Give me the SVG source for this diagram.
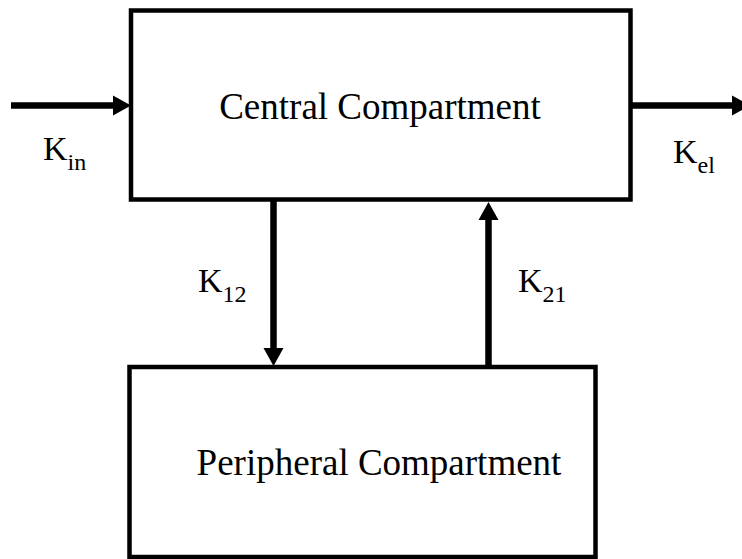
<svg xmlns="http://www.w3.org/2000/svg" width="742" height="559" viewBox="0 0 742 559">
<style>
.box{fill:#fff;stroke:#000;stroke-width:4.5}
.lbl{font-family:"Liberation Serif","Times New Roman",serif;fill:#000}
.big{font-size:37px}
.k{font-size:34px}
.sub{font-size:24px}
.con{stroke:#000;stroke-width:6.5;fill:none;marker-end:url(#ah)}
</style>
<defs>
<marker id="ah" markerUnits="userSpaceOnUse" markerWidth="20" markerHeight="22" refX="0" refY="10" orient="auto" overflow="visible">
<path d="M0,0 L18,10 L0,20 Z" fill="#000"/>
</marker>
</defs>
<rect width="742" height="559" fill="#fff"/>
<g id="central">
<rect class="box" x="131" y="10.5" width="499.5" height="189"/>
<text class="lbl big" x="380" y="119" text-anchor="middle">Central Compartment</text>
</g>
<g id="peripheral">
<rect class="box" x="129.5" y="367" width="466" height="190"/>
<text class="lbl big" x="379" y="475" text-anchor="middle">Peripheral Compartment</text>
</g>
<g id="connectors">
<line class="con" x1="11" y1="105.5" x2="113" y2="105.5"/>
<line class="con" x1="631" y1="105.5" x2="732" y2="105.5"/>
<line class="con" x1="273.5" y1="201" x2="273.5" y2="348"/>
<line class="con" x1="488.5" y1="367" x2="488.5" y2="220"/>
</g>
<g id="labels">
<text class="lbl k" x="43" y="160">K<tspan class="sub" dy="10">in</tspan></text>
<text class="lbl k" x="673" y="163">K<tspan class="sub" dy="10">el</tspan></text>
<text class="lbl k" x="198" y="292">K<tspan class="sub" dy="10">12</tspan></text>
<text class="lbl k" x="518" y="292">K<tspan class="sub" dy="10">21</tspan></text>
</g>
</svg>
